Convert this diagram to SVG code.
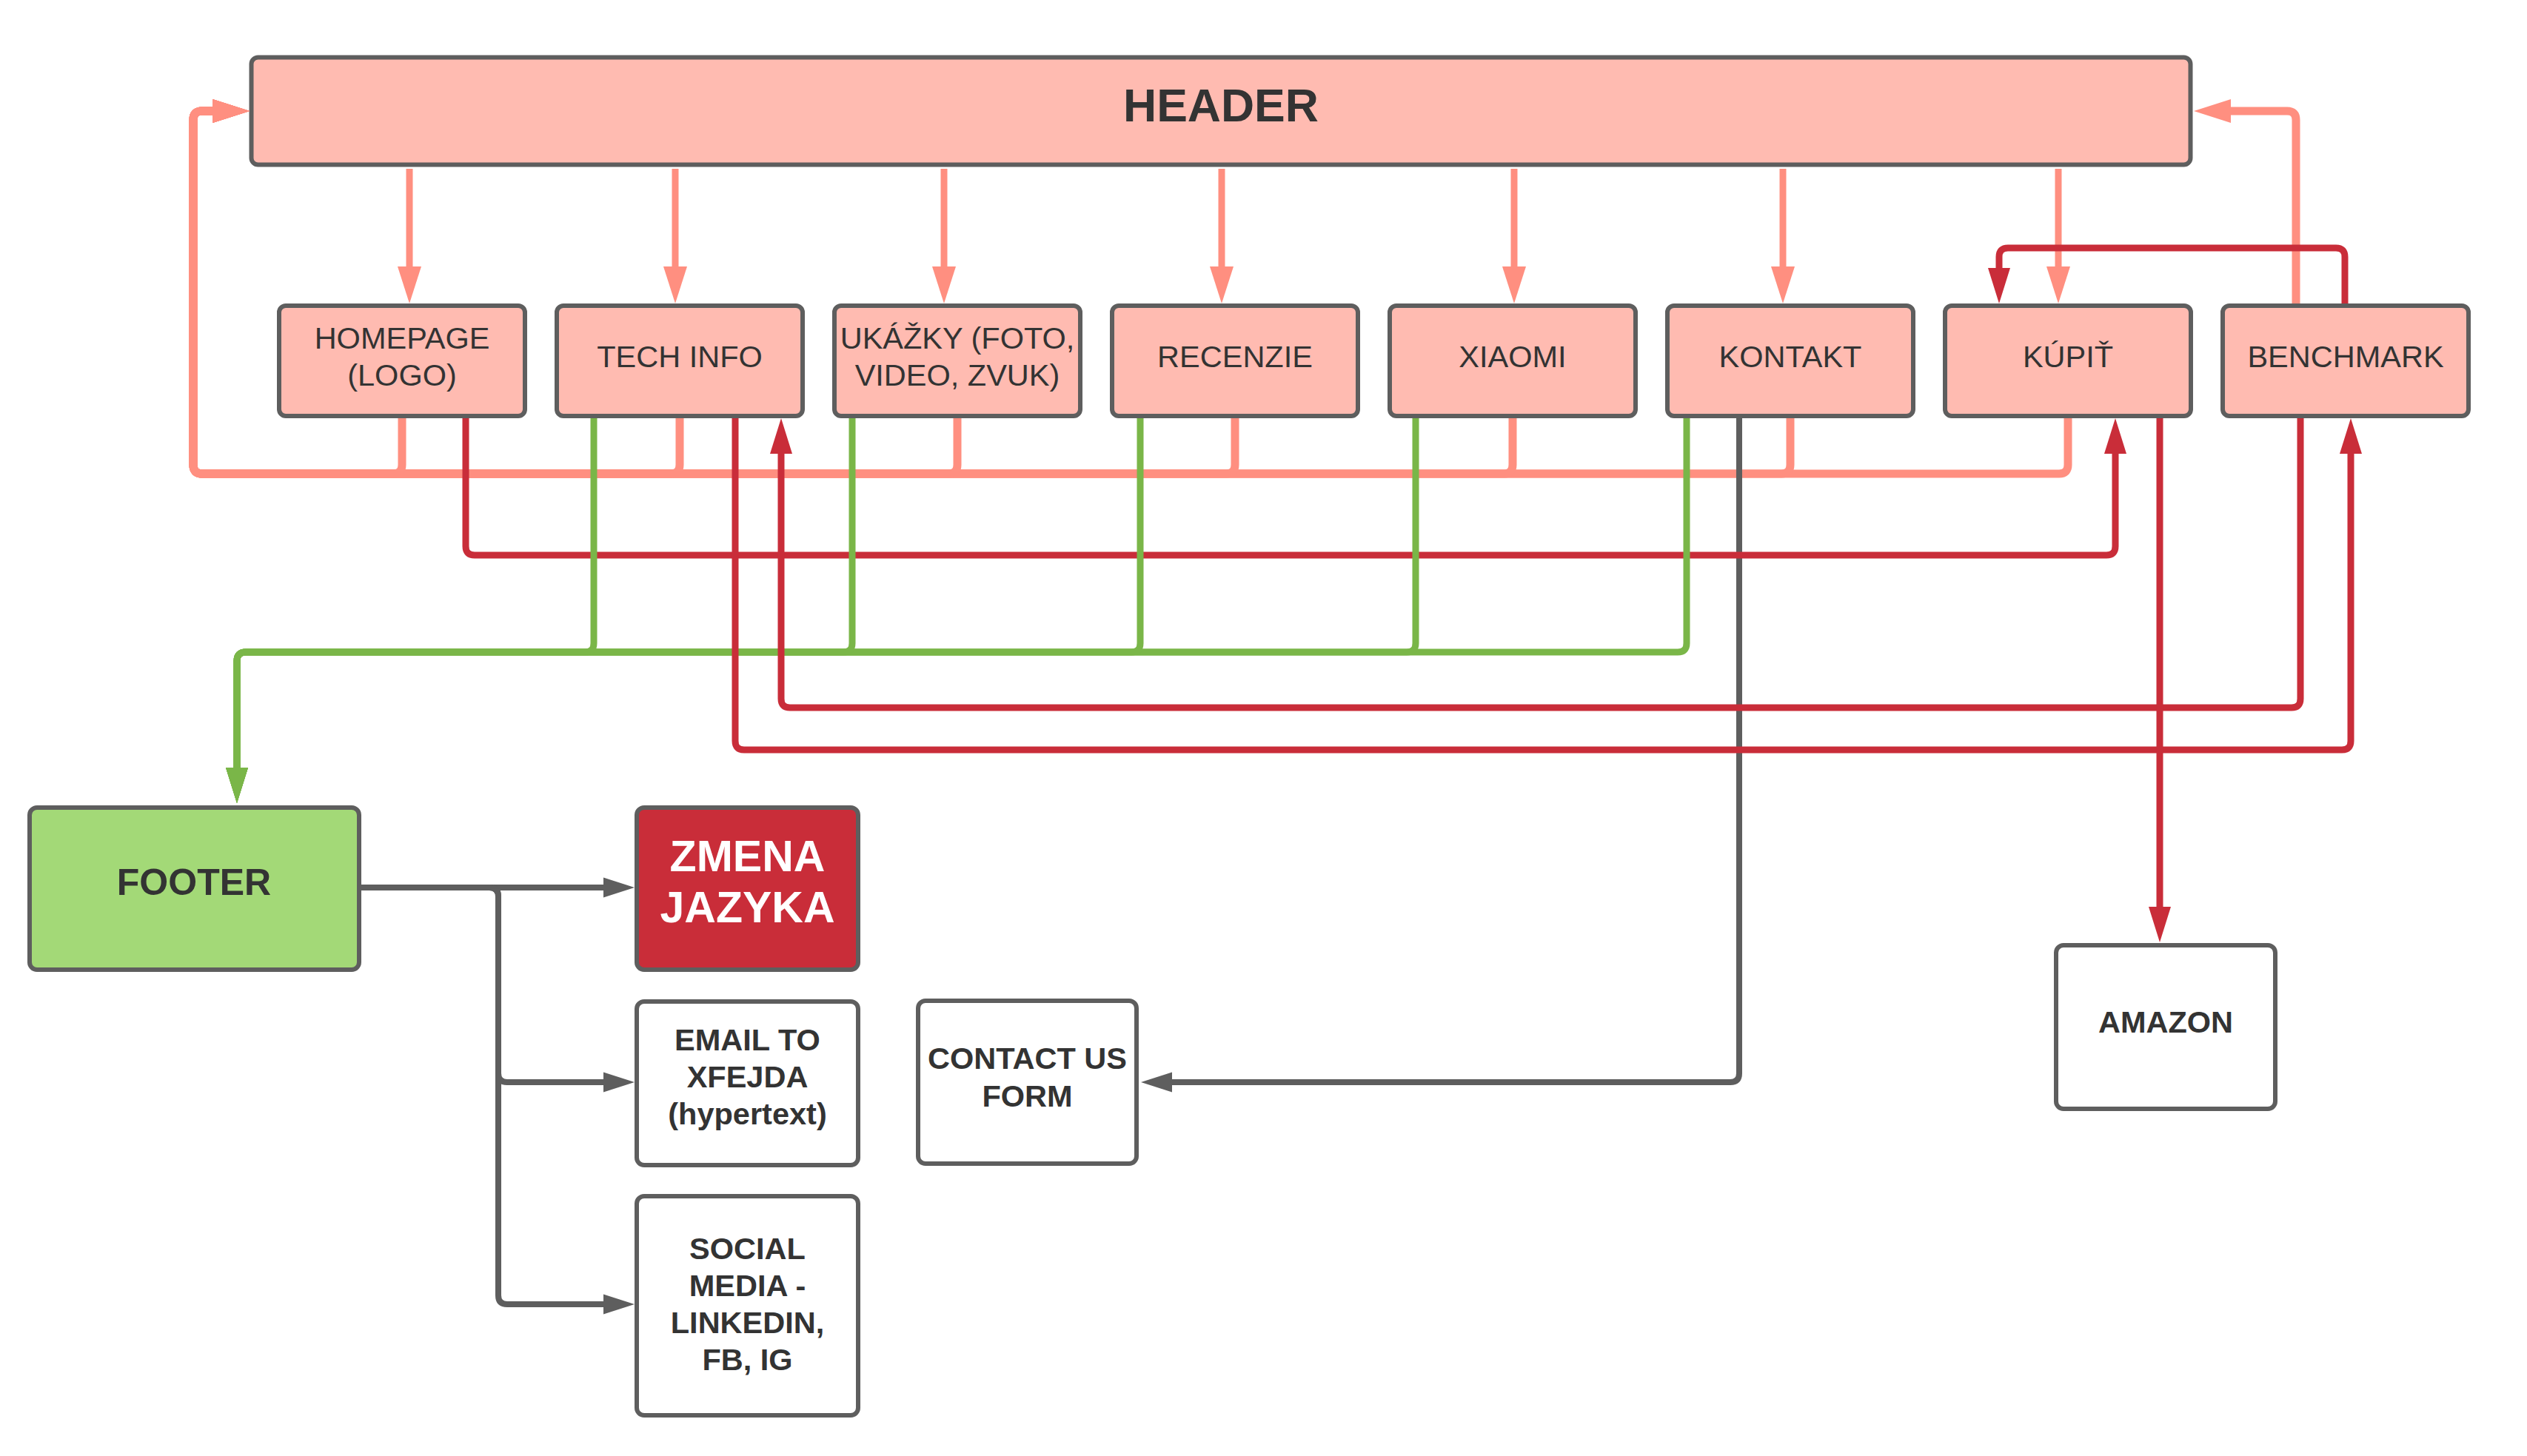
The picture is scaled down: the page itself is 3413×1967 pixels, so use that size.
<svg xmlns="http://www.w3.org/2000/svg" width="3413" height="1967" viewBox="0 0 3413 1967">
<style>
.node{stroke:#5e5e5e;stroke-width:6}
.pink{fill:#ffbbb1}
.white{fill:#ffffff}
.t{font-family:"Liberation Sans",Arial,sans-serif;fill:#333333;text-anchor:middle}
.reg{font-size:41.5px}
.b40{font-size:41.5px;font-weight:bold}
.c{fill:none;stroke-linejoin:round}
.sal{stroke:#ff8f80;stroke-width:11}
.salt{stroke:#ff8f80;stroke-width:9}
.red{stroke:#c92d39;stroke-width:9}
.grn{stroke:#7ab648;stroke-width:9}
.gry{stroke:#5e5e5e;stroke-width:8}
</style>
<defs>
<marker id="aS" markerUnits="userSpaceOnUse" markerWidth="52" markerHeight="34" refX="0" refY="17" orient="auto"><path d="M0,1 L50,17 L0,33 Z" fill="#ff8f80"/></marker>
<marker id="aR" markerUnits="userSpaceOnUse" markerWidth="50" markerHeight="32" refX="0" refY="16" orient="auto"><path d="M0,1 L48,16 L0,31 Z" fill="#c92d39"/></marker>
<marker id="aG" markerUnits="userSpaceOnUse" markerWidth="50" markerHeight="32" refX="0" refY="16" orient="auto"><path d="M0,1 L48,16 L0,31 Z" fill="#7ab648"/></marker>
<marker id="aY" markerUnits="userSpaceOnUse" markerWidth="44" markerHeight="30" refX="0" refY="15" orient="auto"><path d="M0,1.5 L42,15 L0,28.5 Z" fill="#5e5e5e"/></marker>
</defs>
<rect width="3413" height="1967" fill="#ffffff"/>

<g id="nodes">
<g id="header"><rect class="node pink" x="339.5" y="77.5" width="2619" height="145" rx="9"/><text class="t" x="1649" y="164" font-size="62.5" font-weight="bold">HEADER</text></g>
<g id="homepage"><rect class="node pink" x="377" y="413" width="332" height="149" rx="9"/><text class="t reg" x="543" y="471">HOMEPAGE</text><text class="t reg" x="543" y="521">(LOGO)</text></g>
<g id="techinfo"><rect class="node pink" x="752" y="413" width="332" height="149" rx="9"/><text class="t reg" x="918" y="496">TECH INFO</text></g>
<g id="ukazky"><rect class="node pink" x="1127" y="413" width="332" height="149" rx="9"/><text class="t reg" x="1293" y="471">UKÁŽKY (FOTO,</text><text class="t reg" x="1293" y="521">VIDEO, ZVUK)</text></g>
<g id="recenzie"><rect class="node pink" x="1502" y="413" width="332" height="149" rx="9"/><text class="t reg" x="1668" y="496">RECENZIE</text></g>
<g id="xiaomi"><rect class="node pink" x="1877" y="413" width="332" height="149" rx="9"/><text class="t reg" x="2043" y="496">XIAOMI</text></g>
<g id="kontakt"><rect class="node pink" x="2252" y="413" width="332" height="149" rx="9"/><text class="t reg" x="2418" y="496">KONTAKT</text></g>
<g id="kupit"><rect class="node pink" x="2627" y="413" width="332" height="149" rx="9"/><text class="t reg" x="2793" y="496">KÚPIŤ</text></g>
<g id="benchmark"><rect class="node pink" x="3002" y="413" width="332" height="149" rx="9"/><text class="t reg" x="3168" y="496">BENCHMARK</text></g>
<g id="footer"><rect class="node" fill="#a3d977" x="40" y="1091" width="445" height="219" rx="10"/><text class="t" x="262" y="1209" font-size="50" font-weight="bold">FOOTER</text></g>
<g id="zmena"><rect class="node" fill="#c92d39" x="860" y="1091" width="299" height="219" rx="10"/><text class="t" x="1009.5" y="1177" font-size="59" font-weight="bold" style="fill:#ffffff">ZMENA</text><text class="t" x="1009.5" y="1246" font-size="59" font-weight="bold" style="fill:#ffffff">JAZYKA</text></g>
<g id="email"><rect class="node white" x="860" y="1353" width="299" height="221" rx="10"/><text class="t b40" x="1009.5" y="1419">EMAIL TO</text><text class="t b40" x="1009.5" y="1469">XFEJDA</text><text class="t b40" x="1009.5" y="1519">(hypertext)</text></g>
<g id="social"><rect class="node white" x="860" y="1616" width="299" height="296" rx="10"/><text class="t b40" x="1009.5" y="1701">SOCIAL</text><text class="t b40" x="1009.5" y="1751">MEDIA -</text><text class="t b40" x="1009.5" y="1801">LINKEDIN,</text><text class="t b40" x="1009.5" y="1851">FB, IG</text></g>
<g id="contactform"><rect class="node white" x="1240" y="1352" width="295" height="220" rx="10"/><text class="t b40" x="1387.5" y="1444">CONTACT US</text><text class="t b40" x="1387.5" y="1495">FORM</text></g>
<g id="amazon"><rect class="node white" x="2777" y="1277" width="296" height="221" rx="10"/><text class="t b40" x="2925" y="1395">AMAZON</text></g>
</g>

<g id="connectors">
<!-- header to pages -->
<path class="c salt" d="M553 228 V360" marker-end="url(#aS)"/>
<path class="c salt" d="M912 228 V360" marker-end="url(#aS)"/>
<path class="c salt" d="M1275 228 V360" marker-end="url(#aS)"/>
<path class="c salt" d="M1650 228 V360" marker-end="url(#aS)"/>
<path class="c salt" d="M2045 228 V360" marker-end="url(#aS)"/>
<path class="c salt" d="M2408 228 V360" marker-end="url(#aS)"/>
<path class="c salt" d="M2780 228 V360" marker-end="url(#aS)"/>
<!-- pages back to header (left loop) -->
<path class="c sal" d="M2793 565 V628 Q2793 640 2781 640 H273 Q261 640 261 628 V162 Q261 150 273 150 H287" marker-end="url(#aS)"/>
<path class="c sal" d="M2418 565 V628 Q2418 640 2406 640 H273 Q261 640 261 628 V162 Q261 150 273 150 H287" marker-end="url(#aS)"/>
<path class="c sal" d="M2043 565 V628 Q2043 640 2031 640 H273 Q261 640 261 628 V162 Q261 150 273 150 H287" marker-end="url(#aS)"/>
<path class="c sal" d="M1668 565 V628 Q1668 640 1656 640 H273 Q261 640 261 628 V162 Q261 150 273 150 H287" marker-end="url(#aS)"/>
<path class="c sal" d="M1293 565 V628 Q1293 640 1281 640 H273 Q261 640 261 628 V162 Q261 150 273 150 H287" marker-end="url(#aS)"/>
<path class="c sal" d="M918 565 V628 Q918 640 906 640 H273 Q261 640 261 628 V162 Q261 150 273 150 H287" marker-end="url(#aS)"/>
<path class="c sal" d="M543 565 V628 Q543 640 531 640 H273 Q261 640 261 628 V162 Q261 150 273 150 H287" marker-end="url(#aS)"/>
<!-- benchmark back to header -->
<path class="c sal" d="M3101 410 V162 Q3101 150 3089 150 H3013" marker-end="url(#aS)"/>
<!-- kontakt to contact form -->
<path class="c gry" d="M2349 565 V1450 Q2349 1462 2337 1462 H1583" marker-end="url(#aY)"/>
<!-- homepage to kupit -->
<path class="c red" d="M629 565 V738 Q629 750 641 750 H2845 Q2857 750 2857 738 V613" marker-end="url(#aR)"/>
<!-- pages to footer -->
<path class="c grn" d="M2278 565 V869 Q2278 881 2266 881 H332 Q320 881 320 893 V1037" marker-end="url(#aG)"/>
<path class="c grn" d="M1912 565 V869 Q1912 881 1900 881 H332 Q320 881 320 893 V1037" marker-end="url(#aG)"/>
<path class="c grn" d="M1540 565 V869 Q1540 881 1528 881 H332 Q320 881 320 893 V1037" marker-end="url(#aG)"/>
<path class="c grn" d="M1151 565 V869 Q1151 881 1139 881 H332 Q320 881 320 893 V1037" marker-end="url(#aG)"/>
<path class="c grn" d="M802 565 V869 Q802 881 790 881 H332 Q320 881 320 893 V1037" marker-end="url(#aG)"/>
<!-- tech info to benchmark -->
<path class="c red" d="M993 565 V1001 Q993 1013 1005 1013 H3163 Q3175 1013 3175 1001 V613" marker-end="url(#aR)"/>
<!-- benchmark to tech info -->
<path class="c red" d="M3107 565 V944 Q3107 956 3095 956 H1067 Q1055 956 1055 944 V613" marker-end="url(#aR)"/>
<!-- benchmark to kupit -->
<path class="c red" d="M3167 410 V347 Q3167 335 3155 335 H2712 Q2700 335 2700 347 V362" marker-end="url(#aR)"/>
<!-- kupit to amazon -->
<path class="c red" d="M2917 565 V1225" marker-end="url(#aR)"/>
<!-- footer links -->
<path class="c gry" d="M488 1199 H815" marker-end="url(#aY)"/>
<path class="c gry" d="M488 1199 H661 Q673 1199 673 1211 V1450 Q673 1462 685 1462 H815" marker-end="url(#aY)"/>
<path class="c gry" d="M488 1199 H661 Q673 1199 673 1211 V1750 Q673 1762 685 1762 H815" marker-end="url(#aY)"/>
</g>
</svg>
